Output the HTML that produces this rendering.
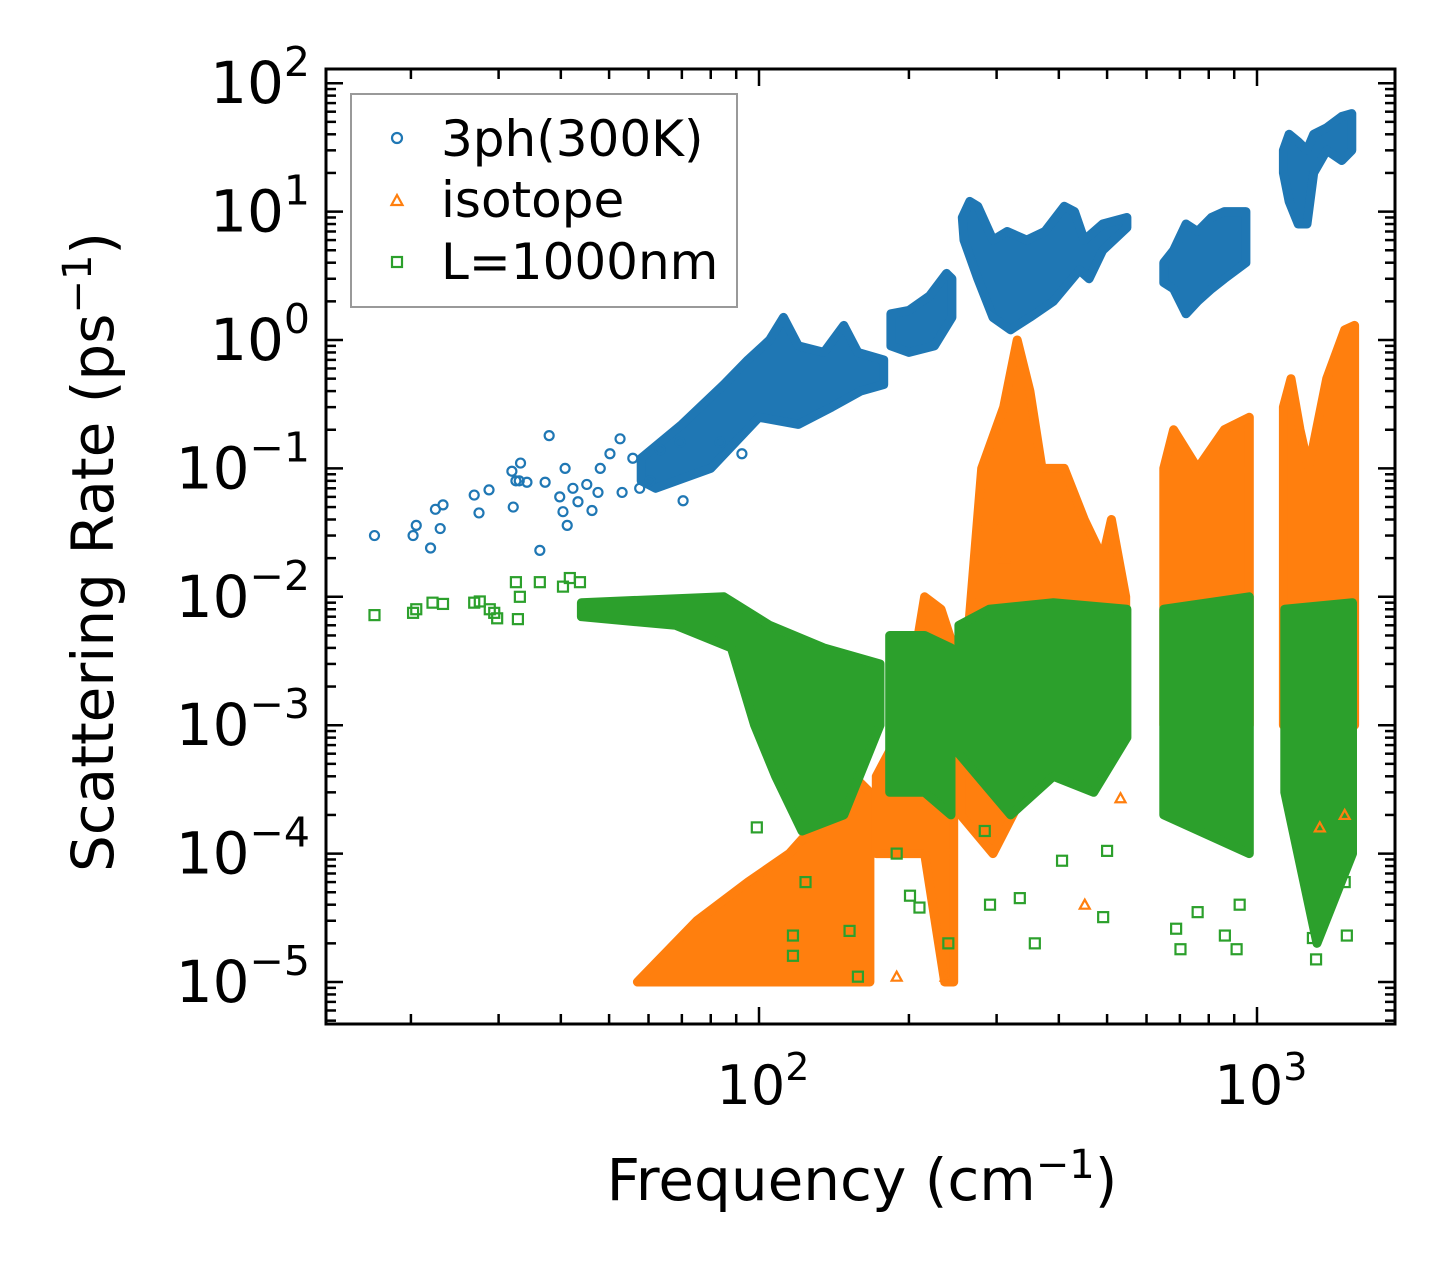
<!DOCTYPE html>
<html><head><meta charset="utf-8">
<style>
html,body{margin:0;padding:0;background:#fff;}
svg{display:block;font-family:"DejaVu Sans","Liberation Sans",sans-serif;}
</style></head>
<body>
<svg id="chart" width="1455" height="1275" viewBox="0 0 1455 1275" xmlns="http://www.w3.org/2000/svg">
<g id="bands"></g>
<g id="pts"></g>
<g id="axes"></g>
<g id="legend">
  <rect x="351" y="94" width="386" height="213" fill="#fff" stroke="#999" stroke-width="2"/>
  <circle cx="397" cy="138" r="5" fill="none" stroke="#1f77b4" stroke-width="2.2"/>
  <text x="441" y="156" font-size="50">3ph(300K)</text>
  <path d="M397,195 L402.5,205 L391.5,205 Z" fill="none" stroke="#ff7f0e" stroke-width="2.2"/>
  <text x="441" y="217" font-size="50">isotope</text>
  <rect x="392" y="257" width="10" height="10" fill="none" stroke="#2ca02c" stroke-width="2.2"/>
  <text x="441" y="279" font-size="50">L=1000nm</text>
</g>
<text x="862" y="1200" font-size="58" text-anchor="middle">Frequency (cm<tspan dy="-22" font-size="40">−1</tspan><tspan dy="22">)</tspan></text>
<text transform="translate(113,552) rotate(-90)" font-size="58" text-anchor="middle">Scattering Rate (ps<tspan dy="-22" font-size="40">−1</tspan><tspan dy="22">)</tspan></text>
</svg>
<script>
// ---- data (frequency cm^-1, rate ps^-1) ----
const xTicks = [100, 1000];
const xTickExp = ["2", "3"];
const yTicks = [1e2, 1e1, 1e0, 1e-1, 1e-2, 1e-3, 1e-4, 1e-5];
const yTickExp = ["2", "1", "0", "−1", "−2", "−3", "−4", "−5"];

// dense regions as envelopes (top then bottom)
const blueBands = [
 [[58,0.12],[70,0.22],[85,0.45],[95,0.7],[105,1.0],[112,1.5],[120,0.9],[135,0.8],[148,1.3],[158,0.8],[178,0.7],[178,0.45],[160,0.4],[140,0.3],[120,0.22],[100,0.25],[80,0.1],[62,0.07],[58,0.08]],
 [[184,1.6],[200,1.7],[220,2.2],[238,3.3],[244,3],[244,1.5],[225,0.9],[200,0.8],[184,0.9]],
 [[256,9],[265,12],[275,11],[295,6],[315,7],[345,6],[375,7],[410,11],[430,10],[450,6],[490,8],[548,9],[548,7.5],[490,5],[460,3],[440,3.5],[390,2],[350,1.5],[320,1.2],[295,1.5],[275,3],[258,6]],
 [[650,4],[680,5],[720,8],[760,7],[810,9],[860,10],[950,10],[950,4],[860,3],[810,2.5],[760,2],[720,1.6],[680,2.5],[650,2.8]],
 [[1130,30],[1160,40],[1210,35],[1260,30],[1300,40],[1380,45],[1480,55],[1550,58],[1550,30],[1480,25],[1380,30],[1300,20],[1260,8],[1210,8],[1160,12],[1130,20]]
];
const orangeBands = [
 [[57,1e-5],[75,3e-5],[95,6e-5],[115,1e-4],[135,2e-4],[155,4e-4],[167,3e-4],[167,1e-5],[57,1e-5]],
 [[172,4e-4],[195,1e-3],[215,1e-2],[232,8e-3],[246,4e-3],[246,1e-5],[236,1e-5],[215,1e-4],[195,1e-4],[172,1e-4]],
 [[254,1e-3],[280,0.1],[310,0.3],[330,1],[350,0.4],[370,0.1],[410,0.1],[450,0.04],[490,0.02],[510,0.04],[545,0.01],[545,1e-3],[490,1e-3],[400,1e-3],[295,1e-4],[254,2e-4]],
 [[650,0.1],[680,0.2],[760,0.1],[860,0.2],[965,0.25],[965,1e-3],[650,1e-3]],
 [[1130,0.3],[1170,0.5],[1220,0.2],[1270,0.1],[1380,0.5],[1500,1.2],[1570,1.3],[1570,1e-3],[1130,1e-3]]
];
const greenBands = [
 [[44,0.009],[85,0.01],[105,0.006],[135,0.004],[175,0.003],[175,0.001],[148,2e-4],[122,1.5e-4],[108,4e-4],[98,1e-3],[88,4e-3],[68,0.006],[44,0.007]],
 [[183,5e-3],[215,5e-3],[243,4e-3],[243,2e-4],[215,3e-4],[183,3e-4]],
 [[252,6e-3],[290,8e-3],[390,9e-3],[548,8e-3],[548,8e-4],[470,3e-4],[390,4e-4],[320,2e-4],[252,6e-4]],
 [[650,8e-3],[965,1e-2],[965,1e-4],[650,2e-4]],
 [[1137,8e-3],[1555,9e-3],[1555,1e-4],[1320,2e-5],[1137,3e-4]]
];
const blueX = [16.9,20.2,20.5,21.9,22.4,22.9,23.2,26.8,27.4,28.7,32.1,31.9,32.5,33.2,33,34.2,36.3,37.9,37.2,39.8,40.8,40.4,41.2,42.3,43.3,45.1,47.5,46.2,48,50.2,52.6,53.1,55.8,57.6,60.4,70.4,63.3,69.4,92.4,83.5];
const blueY = [0.03,0.03,0.036,0.024,0.048,0.034,0.052,0.062,0.045,0.068,0.05,0.095,0.08,0.11,0.08,0.078,0.023,0.18,0.078,0.06,0.1,0.046,0.036,0.07,0.055,0.075,0.065,0.047,0.1,0.13,0.17,0.065,0.12,0.07,0.08,0.056,0.14,0.16,0.13,0.16];
const orangeX = [189,237,301,311,451,532,1500,1337];
const orangeY = [1.1e-5,1.1e-5,0.035,0.02,4e-5,2.7e-4,2e-4,1.6e-4];
const greenX = [16.9,20.2,20.5,22.1,23.2,26.8,27.5,28.8,29.4,32.5,33.1,36.3,40.4,41.7,43.7,29.8,32.8,99,115,117,117,124,152,158,189,201,210,240,291,284,334,358,406,491,500,688,702,760,862,910,923,1295,1314,1515,1500];
const greenY = [0.0072,0.0075,0.008,0.009,0.0088,0.009,0.0092,0.008,0.0075,0.013,0.01,0.013,0.012,0.014,0.013,0.0068,0.0067,1.6e-4,3e-4,2.3e-5,1.6e-5,6e-5,2.5e-5,1.1e-5,1e-4,4.7e-5,3.8e-5,2e-5,4e-5,1.5e-4,4.5e-5,2e-5,8.8e-5,3.2e-5,1.05e-4,2.6e-5,1.8e-5,3.5e-5,2.3e-5,1.8e-5,4e-5,2.2e-5,1.5e-5,2.3e-5,6e-5];

// ---- axes scales ----
const L=326,R=1395,T=69,B=1024;
const X = v => 759 + (Math.log10(v)-2)*498;
const Y = v => 340 - Math.log10(v)*128.4;
const NS="http://www.w3.org/2000/svg";
function mk(tag, attrs, parent){const e=document.createElementNS(NS,tag);for(const k in attrs)e.setAttribute(k,attrs[k]);parent.appendChild(e);return e;}

const colors={blue:"#1f77b4",orange:"#ff7f0e",green:"#2ca02c"};
const bandsG=document.getElementById('bands');
function drawBands(list,col,name){
  list.forEach((b,i)=>{
    const p=mk('polygon',{points:b.map(d=>X(d[0]).toFixed(1)+','+Y(d[1]).toFixed(1)).join(' '),fill:col,stroke:col,'stroke-width':9,'stroke-linejoin':'round'},bandsG);
    
    
  });
}
drawBands(orangeBands,colors.orange,'isotope');
drawBands(greenBands,colors.green,'boundary');
drawBands(blueBands,colors.blue,'3ph');

const ptsG=document.getElementById('pts');
blueX.forEach((x,i)=>{
  const c=mk('circle',{cx:X(x),cy:Y(blueY[i]),r:4.5,fill:'none',stroke:colors.blue,'stroke-width':2.2},ptsG);
  
  
});
orangeX.forEach((x,i)=>{
  const cx=X(x),cy=Y(orangeY[i]);
  const c=mk('path',{d:`M${cx},${cy-5} L${cx+5},${cy+4} L${cx-5},${cy+4} Z`,fill:'none',stroke:colors.orange,'stroke-width':2.2},ptsG);
  
  
});
greenX.forEach((x,i)=>{
  const c=mk('rect',{x:X(x)-5,y:Y(greenY[i])-5,width:10,height:10,fill:'none',stroke:colors.green,'stroke-width':2.2},ptsG);
  
  
});

// ---- axes ----
const ax=document.getElementById('axes');
const frame=mk('rect',{x:L,y:T,width:R-L,height:B-T,fill:'none',stroke:'#000','stroke-width':3},ax);


for(let d=1;d<=3;d++){for(let m=1;m<10;m++){const v=m*Math.pow(10,d);const px=X(v);if(px<L||px>R)continue;
  const len=m===1?17:10;
  const t1=mk('line',{x1:px,y1:B,x2:px,y2:B-len,stroke:'#000','stroke-width':2.5},ax);
  
  
  const t2=mk('line',{x1:px,y1:T,x2:px,y2:T+len,stroke:'#000','stroke-width':2.5},ax);
  
  
}}
xTicks.forEach((v,i)=>{
  const t=mk('text',{x:X(v)+4,y:1104,'font-size':54,'text-anchor':'middle'},ax);
  
  
  t.innerHTML='10<tspan dy="-24" font-size="38">'+xTickExp[i]+'</tspan>';
});
for(let d=-6;d<=2;d++){for(let m=1;m<10;m++){const v=m*Math.pow(10,d);const py=Y(v);if(py<T||py>B)continue;
  const len=m===1?17:10;
  const t1=mk('line',{x1:L,y1:py,x2:L+len,y2:py,stroke:'#000','stroke-width':2.5},ax);
  
  
  const t2=mk('line',{x1:R,y1:py,x2:R-len,y2:py,stroke:'#000','stroke-width':2.5},ax);
  
  
}}
yTicks.forEach((v,i)=>{
  const t=mk('text',{x:310,y:Y(v)+20,'font-size':58,'text-anchor':'end'},ax);
  
  
  t.innerHTML='10<tspan dy="-27" font-size="41">'+yTickExp[i]+'</tspan>';
});
</script>
</body></html>
